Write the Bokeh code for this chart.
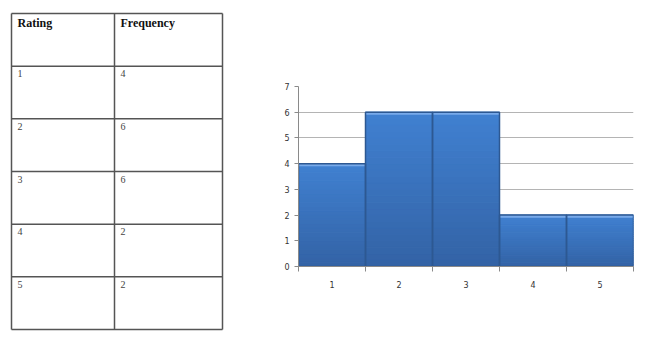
from bokeh.plotting import figure
from bokeh.layouts import row
from bokeh.models import Range1d, FixedTicker, ColumnDataSource
from bokeh.core.properties import value
from bokeh.embed import file_html
from bokeh.resources import INLINE

# Data
ratings = [1, 2, 3, 4, 5]
frequencies = [4, 6, 6, 2, 2]
header = ["Rating", "Frequency"]
y_ticks = [0, 1, 2, 3, 4, 5, 6, 7]

# ---------- Table panel ----------
W_T, H = 260, 342
t = figure(width=W_T, height=H, x_range=Range1d(0, W_T), y_range=Range1d(H, 0),
           output_backend="svg", toolbar_location=None,
           min_border=0, min_border_left=0, min_border_right=0,
           min_border_top=0, min_border_bottom=0)
t.axis.visible = False
t.grid.visible = False
t.outline_line_color = None
t.background_fill_color = "white"
t.border_fill_color = "white"

left, mid, right = 11, 114, 222
top = 13
n_rows = len(ratings) + 1
row_h = (329 - top) / n_rows
row_lines = [top + i * row_h for i in range(n_rows + 1)]

t.segment(x0=[left] * len(row_lines), x1=[right] * len(row_lines),
          y0=row_lines, y1=row_lines, line_color="#555555", line_width=1.5)
t.segment(x0=[left, mid, right], x1=[left, mid, right],
          y0=[top] * 3, y1=[row_lines[-1]] * 3, line_color="#555555", line_width=1.5)

t.text(x=[left + 6, mid + 6], y=[top + 2] * 2, text=header,
       text_font=value("Liberation Serif"), text_font_size="12px",
       text_font_style="bold", text_color="#111111", text_baseline="top")

cell_y = [row_lines[i + 1] + 4 for i in range(len(ratings))]
t.text(x=[left + 6] * len(ratings), y=cell_y, text=[str(r) for r in ratings],
       text_font=value("Liberation Serif"), text_font_size="10px",
       text_color="#444444", text_baseline="top")
t.text(x=[mid + 6] * len(ratings), y=cell_y, text=[str(f) for f in frequencies],
       text_font=value("Liberation Serif"), text_font_size="10px",
       text_color="#444444", text_baseline="top")

# ---------- Histogram panel ----------
W_C = 650 - W_T
p = figure(width=W_C, height=H, x_range=Range1d(0.5, 5.5), y_range=Range1d(0, 7),
           output_backend="svg", toolbar_location=None,
           min_border_left=38, min_border_right=17,
           min_border_top=86, min_border_bottom=76)
p.outline_line_color = None
p.background_fill_color = "white"
p.border_fill_color = "white"

# keep each panel's frame independent of its neighbour
for fig in (t, p):
    if hasattr(fig, "frame_align"):
        fig.frame_align = False

p.xgrid.visible = False
p.ygrid.ticker = FixedTicker(ticks=y_ticks)
p.ygrid.grid_line_color = "#b4b4b4"
p.ygrid.grid_line_width = 1

# gradient bars: stacked bands from darker bottom to brighter top
N = 24
c_bot = (0x33, 0x63, 0xa6)
c_top = (0x40, 0x80, 0xd0)
xs, bots, tops, cols = [], [], [], []
for r, f in zip(ratings, frequencies):
    for k in range(N):
        s = k / (N - 1)
        c = tuple(int(round(a + (b - a) * s)) for a, b in zip(c_bot, c_top))
        xs.append(r)
        bots.append(f * k / N)
        tops.append(f * (k + 1) / N)
        cols.append("#%02x%02x%02x" % c)
src = ColumnDataSource(dict(l=[x - 0.5 for x in xs], r=[x + 0.5 for x in xs],
                            b=bots, t=tops, c=cols))
p.quad(left="l", right="r", bottom="b", top="t", fill_color="c",
       line_color="c", line_width=1, source=src)

# light highlight strip along each bar top
p.quad(left=[r - 0.5 for r in ratings], right=[r + 0.5 for r in ratings],
       bottom=[f - 0.1 for f in frequencies], top=frequencies,
       fill_color="#78aaea", line_color=None)

# bar outlines
p.quad(left=[r - 0.5 for r in ratings], right=[r + 0.5 for r in ratings],
       bottom=[0] * len(ratings), top=frequencies,
       fill_color=None, line_color="#2d5892", line_width=1.5)

# axes
p.yaxis.ticker = FixedTicker(ticks=y_ticks)
p.yaxis.axis_line_color = "#8a8a8a"
p.yaxis.major_tick_line_color = "#8a8a8a"
p.yaxis.major_tick_out = 4
p.yaxis.major_tick_in = 0
p.yaxis.minor_tick_line_color = None
p.yaxis.major_label_text_font = "DejaVu Sans"
p.yaxis.major_label_text_font_size = "8px"
p.yaxis.major_label_text_color = "#333333"
p.yaxis.major_label_standoff = 5

p.xaxis.ticker = FixedTicker(ticks=ratings,
                             minor_ticks=[r - 0.5 for r in ratings] + [ratings[-1] + 0.5])
p.xaxis.axis_line_color = "#8a8a8a"
p.xaxis.major_tick_line_color = None
p.xaxis.major_tick_out = 0
p.xaxis.major_tick_in = 0
p.xaxis.minor_tick_line_color = "#8a8a8a"
p.xaxis.minor_tick_out = 5
p.xaxis.minor_tick_in = 0
p.xaxis.major_label_text_font = "DejaVu Sans"
p.xaxis.major_label_text_font_size = "8px"
p.xaxis.major_label_text_color = "#333333"
p.xaxis.major_label_standoff = 9

layout = row(t, p, spacing=0)
open("out.html", "w").write(file_html(layout, INLINE))
